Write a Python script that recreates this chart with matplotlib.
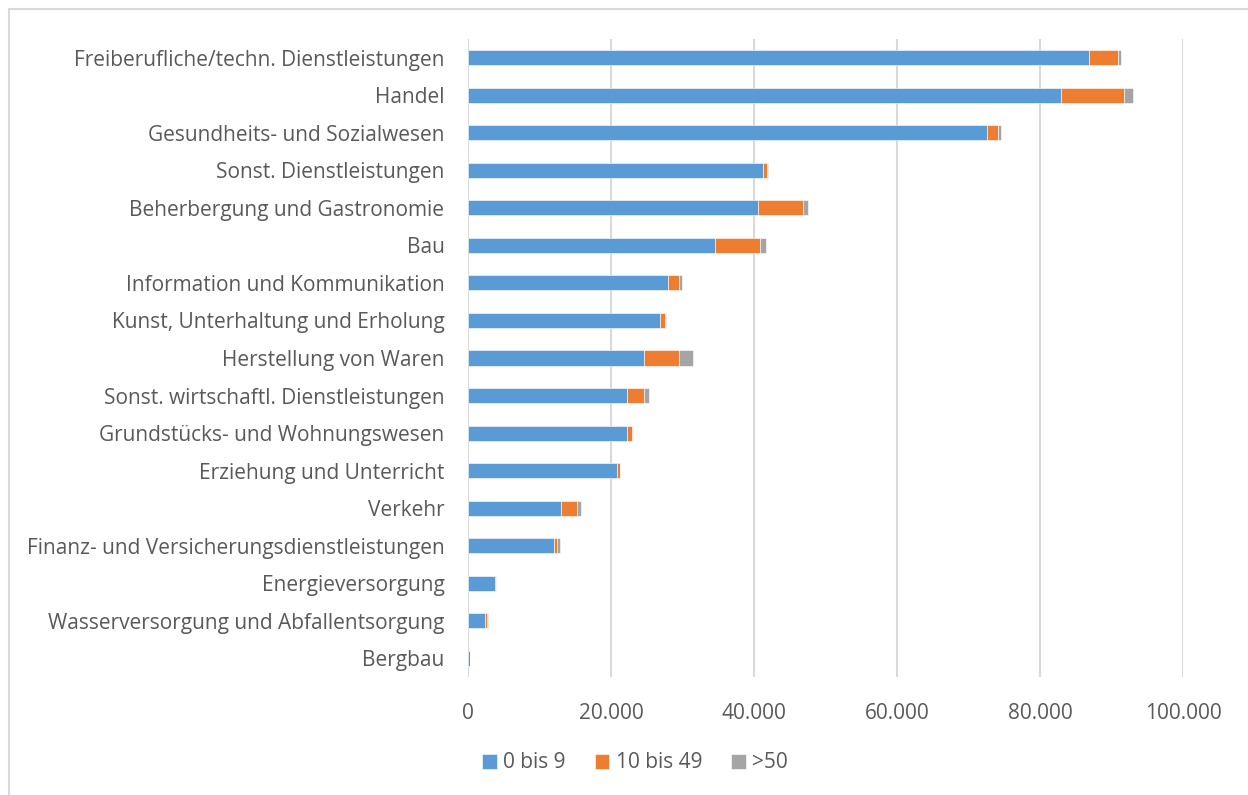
import matplotlib
matplotlib.use('Agg')
import matplotlib.pyplot as plt
from matplotlib.ticker import FuncFormatter
from matplotlib.patches import Rectangle
import numpy as np

# Branchen, von oben nach unten
branchen = [
    "Freiberufliche/techn. Dienstleistungen",
    "Handel",
    "Gesundheits- und Sozialwesen",
    "Sonst. Dienstleistungen",
    "Beherbergung und Gastronomie",
    "Bau",
    "Information und Kommunikation",
    "Kunst, Unterhaltung und Erholung",
    "Herstellung von Waren",
    "Sonst. wirtschaftl. Dienstleistungen",
    "Grundstücks- und Wohnungswesen",
    "Erziehung und Unterricht",
    "Verkehr",
    "Finanz- und Versicherungsdienstleistungen",
    "Energieversorgung",
    "Wasserversorgung und Abfallentsorgung",
    "Bergbau",
]

# Unternehmen nach Beschäftigtengrößenklasse
klein = [86900, 83000, 72600, 41200, 40600, 34600, 28000, 26900, 24600,
         22300, 22200, 20800, 13000, 12000, 3800, 2400, 300]
mittel = [4000, 8700, 1500, 600, 6200, 6300, 1500, 700, 4900,
          2300, 800, 400, 2300, 500, 100, 300, 30]
gross = [400, 1300, 500, 100, 700, 800, 400, 100, 1900,
         700, 100, 100, 500, 300, 50, 50, 10]

serien = ["0 bis 9", "10 bis 49", ">50"]
farben = ["#5B9BD5", "#ED7D31", "#A5A5A5"]

plt.rcParams['font.family'] = ['Open Sans', 'DejaVu Sans']
textfarbe = "#595959"
schrift = 15

fig = plt.figure(figsize=(12.48, 7.95), dpi=100)
ax = fig.add_axes([468 / 1248, 1 - 677 / 795, (1183 - 468) / 1248, (677 - 39) / 795])

y = np.arange(len(branchen))
links = np.zeros(len(branchen))
for werte, name, farbe in zip([klein, mittel, gross], serien, farben):
    ax.barh(y, werte, left=links, height=0.4, color=farbe, label=name,
            edgecolor="white", linewidth=0.4, zorder=3)
    links += np.array(werte)

ax.set_ylim(len(branchen) - 0.5, -0.5)
ax.set_xlim(0, 100000)
ax.set_xticks(np.arange(0, 100001, 20000))
ax.xaxis.set_major_formatter(FuncFormatter(lambda v, p: f"{int(v):,}".replace(",", ".")))
ax.set_yticks(y)
ax.set_yticklabels(branchen)

ax.grid(axis="x", color="#D9D9D9", linewidth=1.5, zorder=0)
for s in ax.spines.values():
    s.set_visible(False)
ax.tick_params(axis="both", length=0, labelsize=schrift, colors=textfarbe)
ax.tick_params(axis="y", pad=17)
ax.tick_params(axis="x", pad=19)

fig.legend(loc="center", bbox_to_anchor=(635 / 1248, 1 - 763 / 795), ncol=3,
           frameon=False, fontsize=schrift, labelcolor=textfarbe,
           handlelength=0.7, handleheight=0.7, handletextpad=0.3,
           columnspacing=1.4)

# heller Rahmen um die Grafik
fig.patches.append(Rectangle((9 / 1248, -0.1), 1.2, 1 - 9 / 795 + 0.1,
                             transform=fig.transFigure, fill=False,
                             edgecolor="#D9D9D9", linewidth=1.5))

fig.savefig("out.png", dpi=100)
